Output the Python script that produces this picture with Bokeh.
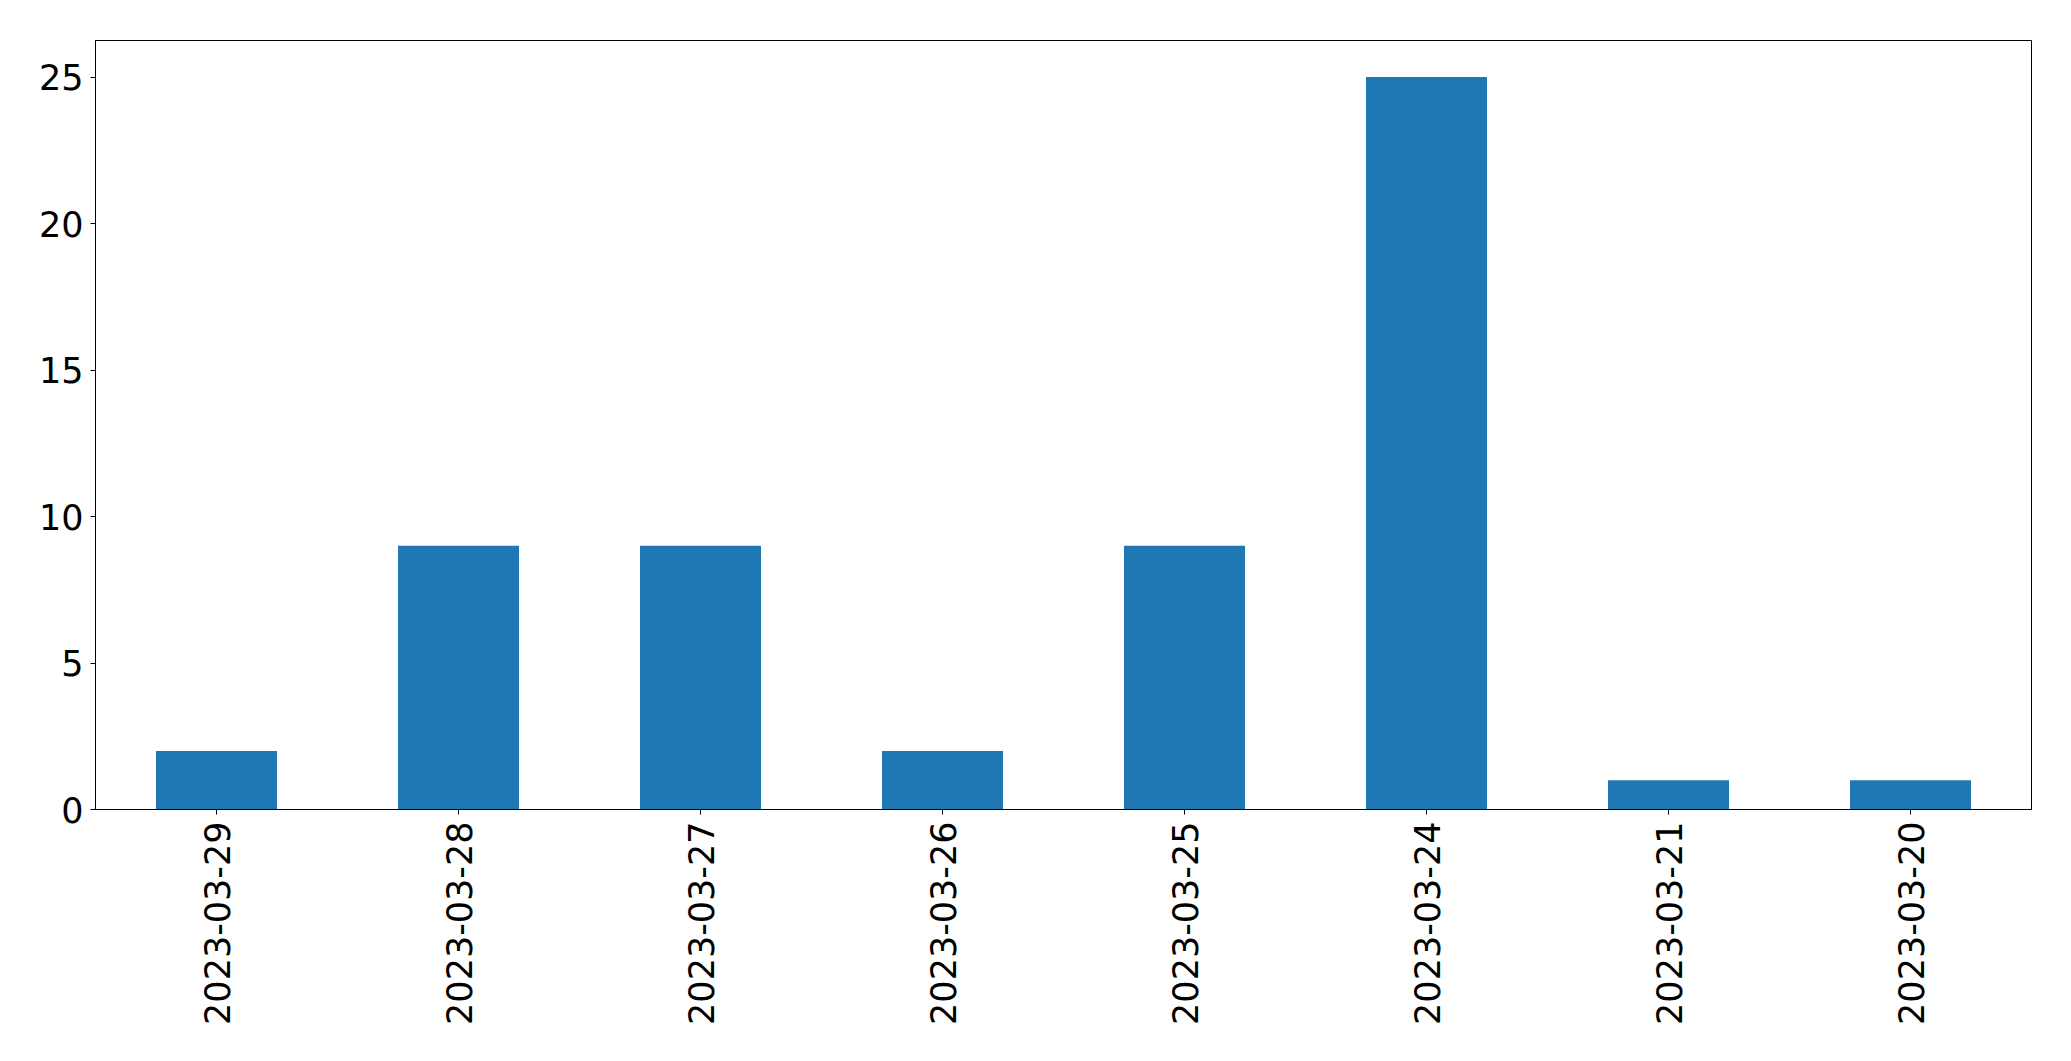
import math
from bokeh.plotting import figure
from bokeh.models import FactorRange, Range1d, SingleIntervalTicker, ColumnDataSource
from bokeh.embed import file_html
from bokeh.resources import INLINE

dates = ["2023-03-29", "2023-03-28", "2023-03-27", "2023-03-26",
         "2023-03-25", "2023-03-24", "2023-03-21", "2023-03-20"]
counts = [2, 9, 9, 2, 9, 25, 1, 1]

src = ColumnDataSource(dict(x=dates, top=counts))

p = figure(x_range=FactorRange(*dates, range_padding=0),
           y_range=Range1d(0, 26.25),
           width=2055, height=1045,
           output_backend="svg", toolbar_location=None,
           min_border_left=95, min_border_right=24,
           min_border_top=40, min_border_bottom=236)

p.vbar(x="x", top="top", width=0.5, source=src,
       fill_color="#1f77b4", line_color=None)

p.xgrid.visible = False
p.ygrid.visible = False
p.outline_line_color = "black"
p.outline_line_width = 1
p.outline_line_alpha = 1

p.yaxis.ticker = SingleIntervalTicker(interval=5)
for ax in (p.xaxis[0], p.yaxis[0]):
    ax.axis_line_color = "black"
    ax.major_tick_line_color = "black"
    ax.major_tick_out = 5
    ax.major_tick_in = 0
    ax.minor_tick_line_color = None
    ax.major_label_text_font = "DejaVu Sans"
    ax.major_label_text_font_size = "35px"
    ax.major_label_text_color = "black"
    ax.major_label_standoff = 7

p.xaxis.major_label_orientation = math.pi / 2
p.xaxis.major_label_standoff = 7

open("out.html", "w").write(file_html(p, INLINE))
